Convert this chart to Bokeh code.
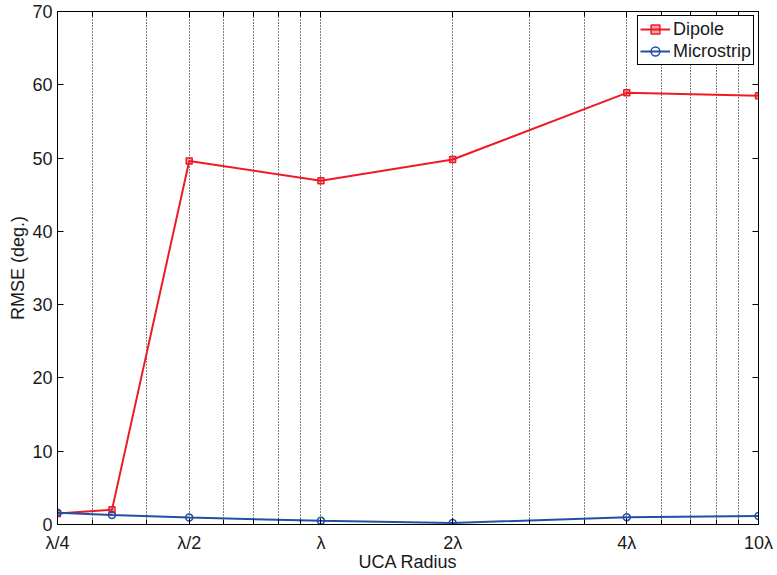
from bokeh.plotting import figure
from bokeh.models import (FixedTicker, LogAxis, LinearAxis, Range1d, Legend, LegendItem,
                          CustomJSTickFormatter)
from bokeh.embed import file_html
from bokeh.resources import INLINE

# ---- data ----
x_vals = [0.25, 0.333, 0.5, 1, 2, 5, 10]
dipole = [1.5, 2.0, 49.6, 46.9, 49.8, 58.9, 58.5]
microstrip = [1.6, 1.3, 0.95, 0.5, 0.2, 1.0, 1.15]
x_ticks = [0.25, 0.5, 1, 2, 5, 10]
x_tick_labels = ["λ/4", "λ/2", "λ", "2λ", "4λ", "10λ"]
x_minor = [0.3, 0.4, 0.6, 0.7, 0.8, 0.9, 3, 4, 6, 7, 8, 9]
y_ticks = [0, 10, 20, 30, 40, 50, 60, 70]

RED = "#ED1C24"
BLUE = "#2050A5"
FONT = "Liberation Sans"
FS = "18px"

p = figure(width=777, height=575, x_axis_type="log",
           x_range=Range1d(0.25, 10), y_range=Range1d(0, 70),
           output_backend="svg", toolbar_location=None,
           min_border_left=57, min_border_top=11, min_border_right=19, min_border_bottom=51)
p.outline_line_color = "black"
p.outline_line_width = 1

xt = FixedTicker(ticks=x_ticks, minor_ticks=x_minor)
yt = FixedTicker(ticks=y_ticks, minor_ticks=[])

xa = p.xaxis[0]
xa.ticker = xt
xa.major_label_overrides = {t: l for t, l in zip(x_ticks, x_tick_labels)}
xa.axis_label = "UCA Radius"
ya = p.yaxis[0]
ya.ticker = yt
ya.axis_label = "RMSE (deg.)"

for ax in (xa, ya):
    ax.major_tick_in = 6
    ax.major_tick_out = 0
    ax.minor_tick_in = 5
    ax.minor_tick_out = 0
    ax.axis_line_color = "black"
    ax.major_tick_line_color = "black"
    ax.minor_tick_line_color = "black"
    ax.major_label_text_font = FONT
    ax.major_label_text_font_size = FS
    ax.major_label_text_color = "#1a1a1a"
    ax.axis_label_text_font = FONT
    ax.axis_label_text_font_size = FS
    ax.axis_label_text_font_style = "normal"
    ax.axis_label_text_color = "#1a1a1a"
xa.major_label_standoff = 8
xa.axis_label_standoff = -4
ya.major_label_standoff = 5
ya.axis_label_standoff = 1

blank = CustomJSTickFormatter(code="return ''")
top = LogAxis(ticker=xt, formatter=blank, major_tick_in=6, major_tick_out=0,
              minor_tick_in=5, minor_tick_out=0, major_label_standoff=0)
right = LinearAxis(ticker=yt, formatter=blank, major_tick_in=6, major_tick_out=0,
                   minor_tick_in=0, minor_tick_out=0, major_label_standoff=0)
p.add_layout(top, "above")
p.add_layout(right, "right")

p.ygrid.grid_line_color = None
p.xgrid.ticker = xt
p.xgrid.grid_line_color = "black"
p.xgrid.grid_line_dash = "1 2"
p.xgrid.grid_line_alpha = 1
p.xgrid.minor_grid_line_color = "black"
p.xgrid.minor_grid_line_dash = "1 2"
p.xgrid.minor_grid_line_alpha = 1

r1l = p.line(x_vals, dipole, line_color=RED, line_width=2)
r1m = p.scatter(x_vals, dipole, marker="square", size=6, line_color=RED, fill_color=RED,
                fill_alpha=0.4, line_width=1.5)
r2l = p.line(x_vals, microstrip, line_color=BLUE, line_width=2)
r2m = p.scatter(x_vals, microstrip, marker="circle", size=7, line_color=BLUE, fill_color=None,
                line_width=1.5)

legend = Legend(items=[LegendItem(label="Dipole", renderers=[r1l, r1m]),
                       LegendItem(label="Microstrip", renderers=[r2l, r2m])],
                location="top_right")
legend.label_text_font = FONT
legend.label_text_font_size = FS
legend.label_text_color = "#1a1a1a"
legend.border_line_color = "black"
legend.border_line_width = 1
legend.border_line_alpha = 1
legend.background_fill_color = "white"
legend.background_fill_alpha = 1
legend.padding = 2
legend.spacing = 0
legend.margin = 4
legend.glyph_width = 30
legend.glyph_height = 22
legend.label_height = 22
legend.label_standoff = 3
p.add_layout(legend)

open("out.html", "w").write(file_html(p, INLINE))
